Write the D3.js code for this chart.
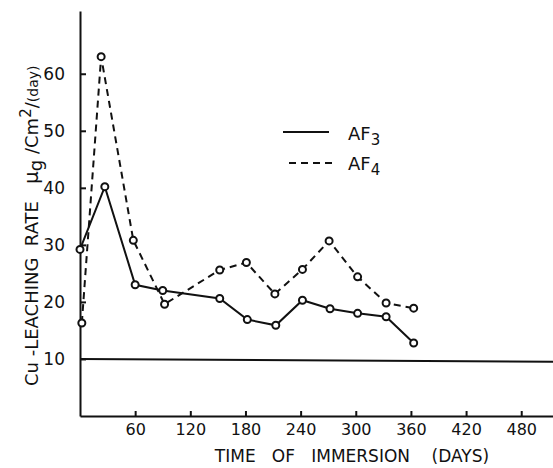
<!DOCTYPE html>
<meta charset="utf-8">
<script src="https://cdn.jsdelivr.net/npm/d3@7/dist/d3.min.js"></script>
<style>
body { margin: 0; background: #fff; }
svg { font-family: "DejaVu Sans", sans-serif; }
.axis path, .axis line { fill: none; stroke: #111; stroke-width: 2px; }
.axis text { fill: #111; font-family: "DejaVu Sans", sans-serif; }
.axis--y text { font-size: 17px; }
.axis--x text { font-size: 16px; }
.line { fill: none; stroke: #111; stroke-width: 2px; }
.dot { fill: #fff; stroke: #111; stroke-width: 2px; }
.label { fill: #111; }
</style>
<body>
<div id="chart"></div>
<script>
// days of immersion / leaching rate (µg/cm²/day)
var af3Days   = [0, 27, 60, 90, 152, 182, 213, 242, 272, 302, 333, 363],
    af3Values = [29.2, 40.2, 23.0, 22.0, 20.6, 16.9, 15.9, 20.3, 18.8, 18.0, 17.4, 12.8];
var af4Days   = [2, 23, 58, 92, 152, 181, 212, 242, 271, 302, 333, 363],
    af4Values = [16.3, 63.0, 30.8, 19.6, 25.6, 26.9, 21.4, 25.7, 30.7, 24.4, 19.8, 18.9];
var refLine   = [10, 9.5];   // base level line, start / far end
var xTicks = [60, 120, 180, 240, 300, 360, 420, 480],
    yTicks = [10, 20, 30, 40, 50, 60];

var width = 553, height = 468;

var x = d3.scaleLinear().domain([0, 520]).range([80, 558]);
var y = d3.scaleLinear().domain([0, 71]).range([416, 11]);

var svg = d3.select("#chart").append("svg")
    .attr("width", width)
    .attr("height", height);

svg.append("g")
    .attr("class", "axis axis--x")
    .attr("transform", "translate(0," + y(0) + ")")
    .call(d3.axisBottom(x).tickValues(xTicks).tickSize(-5).tickSizeOuter(0).tickPadding(8));

svg.append("g")
    .attr("class", "axis axis--y")
    .attr("transform", "translate(" + x(0) + ",0)")
    .call(d3.axisLeft(y).tickValues(yTicks).tickSize(-6).tickSizeOuter(0).tickPadding(15));

// base line at 10
svg.append("line")
    .attr("class", "line")
    .attr("x1", x(0)).attr("y1", y(refLine[0]))
    .attr("x2", x(520)).attr("y2", y(refLine[1]));

var line = d3.line();

var af3 = af3Days.map((d, i) => [x(d), y(af3Values[i])]),
    af4 = af4Days.map((d, i) => [x(d), y(af4Values[i])]);

svg.append("path")
    .datum(af4)
    .attr("class", "line")
    .attr("stroke-dasharray", "7,5")
    .attr("d", line);

svg.append("path")
    .datum(af3)
    .attr("class", "line")
    .attr("d", line);

svg.selectAll(".dot")
    .data(af3.concat(af4))
  .enter().append("circle")
    .attr("class", "dot")
    .attr("r", 3.5)
    .attr("cx", d => d[0])
    .attr("cy", d => d[1]);

// legend
var legend = svg.append("g").attr("transform", "translate(283,132)");
legend.append("line").attr("class", "line").attr("x1", 0).attr("x2", 46).attr("y1", 0).attr("y2", 0);
legend.append("line").attr("class", "line").attr("stroke-dasharray", "7,5")
    .attr("x1", 6).attr("x2", 50).attr("y1", 31).attr("y2", 31);
var l3 = legend.append("text").attr("class", "label").attr("x", 65).attr("y", 8).style("font-size", "18px");
l3.append("tspan").text("AF");
l3.append("tspan").attr("dy", 5).style("font-size", "15px").text("3");
var l4 = legend.append("text").attr("class", "label").attr("x", 65).attr("y", 38).style("font-size", "18px");
l4.append("tspan").text("AF");
l4.append("tspan").attr("dy", 5).style("font-size", "15px").text("4");

// x label
svg.append("text")
    .attr("class", "label")
    .attr("x", 352).attr("y", 462)
    .attr("text-anchor", "middle")
    .style("font-size", "17px")
    .style("white-space", "pre")
    .text("TIME   OF   IMMERSION    (DAYS)");

// y label
var yl = svg.append("text")
    .attr("class", "label")
    .attr("transform", "translate(38,386) rotate(-90)")
    .style("font-size", "18px")
    .style("white-space", "pre");
yl.append("tspan").text("Cu -LEACHING  RATE   ");
yl.append("tspan").style("font-size", "20px").text("μ");
yl.append("tspan").attr("dy", 4).text("g");
yl.append("tspan").attr("dy", -4).text(" /Cm");
yl.append("tspan").attr("dy", -7).style("font-size", "15px").text("2");
yl.append("tspan").attr("dy", 7).text("/");
yl.append("tspan").style("font-size", "14px").text("(day)");
</script>
</body>
